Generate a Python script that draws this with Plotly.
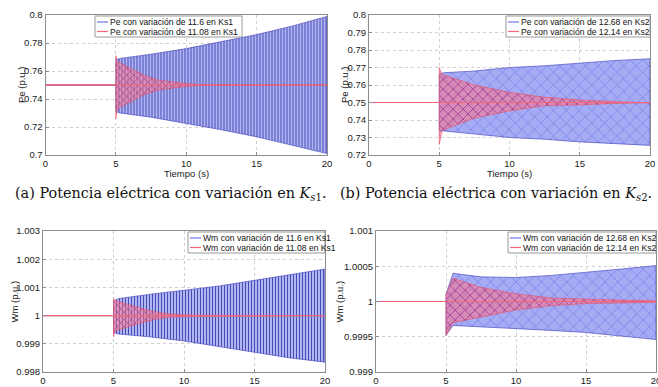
import plotly.graph_objects as go

# ---------------- data (oscillation envelopes) ----------------
# (a) Pe, Ks1
ta_blue = [0, 5, 5, 5.3, 7.5, 10, 12.5, 15, 17.5, 20]
ua_blue = [0.75, 0.75, 0.768, 0.769, 0.772, 0.776, 0.781, 0.786, 0.792, 0.799]
la_blue = [0.75, 0.75, 0.731, 0.730, 0.727, 0.7225, 0.718, 0.713, 0.707, 0.701]
ta_red = [0, 5, 5, 5.1, 6, 7, 8, 9, 10, 11, 12, 20]
ua_red = [0.75, 0.75, 0.771, 0.767, 0.762, 0.757, 0.7535, 0.752, 0.751, 0.7503, 0.7501, 0.75]
la_red = [0.75, 0.75, 0.726, 0.733, 0.738, 0.743, 0.7465, 0.748, 0.749, 0.7497, 0.7499, 0.75]

# (b) Pe, Ks2
tb_blue = [0, 5, 5, 5.3, 7.5, 10, 12.5, 15, 17.5, 20]
ub_blue = [0.75, 0.75, 0.766, 0.767, 0.768, 0.770, 0.771, 0.7725, 0.774, 0.775]
lb_blue = [0.75, 0.75, 0.734, 0.7335, 0.732, 0.730, 0.729, 0.7275, 0.7265, 0.7255]
tb_red = [0, 5, 5, 5.2, 7.5, 10, 12.5, 15, 17.5, 20]
ub_red = [0.75, 0.75, 0.770, 0.766, 0.760, 0.7558, 0.753, 0.7515, 0.7505, 0.7502]
lb_red = [0.75, 0.75, 0.726, 0.734, 0.741, 0.7452, 0.7482, 0.7486, 0.7495, 0.7498]

# (c) Wm, Ks1
tc_blue = [0, 5, 5, 5.3, 7.5, 10, 12.5, 15, 17.5, 20]
uc_blue = [1, 1, 1.0005, 1.0006, 1.00075, 1.0009, 1.00105, 1.00125, 1.00145, 1.00165]
lc_blue = [1, 1, 0.9994, 0.99935, 0.99925, 0.9991, 0.9989, 0.9987, 0.9985, 0.99835]
tc_red = [0, 5, 5, 5.1, 6, 7, 8, 9, 10, 11, 20]
uc_red = [1, 1, 1.0006, 1.00055, 1.0004, 1.00025, 1.00013, 1.00006, 1.00003, 1.00001, 1]
lc_red = [1, 1, 0.99925, 0.99945, 0.9996, 0.99975, 0.99987, 0.99994, 0.99997, 0.99999, 1]

# (d) Wm, Ks2
td_blue = [0, 5, 5, 5.5, 7.5, 10, 12.5, 15, 17.5, 20]
ud_blue = [1, 1, 1.0001, 1.0004, 1.00035, 1.00034, 1.00037, 1.00041, 1.00046, 1.00051]
ld_blue = [1, 1, 0.99952, 0.99966, 0.99964, 0.99962, 0.99959, 0.99956, 0.99951, 0.99946]
td_red = [0, 5, 5, 5.5, 7.5, 10, 12.5, 15, 17.5, 20]
ud_red = [1, 1, 1.0001, 1.00033, 1.0002, 1.00011, 1.00005, 1.00003, 1.00002, 1.00001]
ld_red = [1, 1, 0.99952, 0.9997, 0.99978, 0.99988, 0.99994, 0.99997, 0.99998, 0.99999]

names_a = ["Pe con variación de 11.6 en Ks1", "Pe con variación de 11.08 en Ks1"]
names_b = ["Pe con variación de 12.68 en Ks2", "Pe con variación de 12.14 en Ks2"]
names_c = ["Wm con variación de 11.6 en Ks1", "Wm con variación de 11.08 en Ks1"]
names_d = ["Wm con variación de 12.68 en Ks2", "Wm con variación de 12.14 en Ks2"]

x_ticks = [0, 5, 10, 15, 20]
ya_ticks = [0.7, 0.72, 0.74, 0.76, 0.78, 0.8]
ya_text = ["0.7", "0.72", "0.74", "0.76", "0.78", "0.8"]
yb_ticks = [0.72, 0.73, 0.74, 0.75, 0.76, 0.77, 0.78, 0.79, 0.8]
yb_text = ["0.72", "0.73", "0.74", "0.75", "0.76", "0.77", "0.78", "0.79", "0.8"]
yc_ticks = [0.998, 0.999, 1.0, 1.001, 1.002, 1.003]
yc_text = ["0.998", "0.999", "1", "1.001", "1.002", "1.003"]
yd_ticks = [0.999, 0.9995, 1.0, 1.0005, 1.001]
yd_text = ["0.999", "0.9995", "1", "1.0005", "1.001"]

captions = ["(a) Potencia eléctrica con variación en <i>K</i><sub><i>s</i>1</sub>.",
            "(b) Potencia eléctrica con variación en <i>K</i><sub><i>s</i>2</sub>."]

# ---------------- figure ----------------
W, H = 658, 387
fig = go.Figure()
FONT = "Liberation Sans, Arial, sans-serif"
BLUE_LINE = "#6f74e6"
RED_LINE = "#f2677a"

panels = [
    dict(ax="", t_b=ta_blue, u_b=ua_blue, l_b=la_blue, t_r=ta_red, u_r=ua_red, l_r=la_red,
         names=names_a, dense=True, rng=[0.7, 0.8], tv=ya_ticks, tt=ya_text,
         px=(45.5, 327), py=(15, 155), leg=(95, 16, 147), ytitle="Pe (p.u.)", ytx=21, base=0.75),
    dict(ax="2", t_b=tb_blue, u_b=ub_blue, l_b=lb_blue, t_r=tb_red, u_r=ub_red, l_r=lb_red,
         names=names_b, dense=False, rng=[0.72, 0.8], tv=yb_ticks, tt=yb_text,
         px=(369, 650), py=(15, 155), leg=(506, 16, 144), ytitle="Pe (p.u.)", ytx=344, base=0.75),
    dict(ax="3", t_b=tc_blue, u_b=uc_blue, l_b=lc_blue, t_r=tc_red, u_r=uc_red, l_r=lc_red,
         names=names_c, dense=True, rng=[0.998, 1.003], tv=yc_ticks, tt=yc_text,
         px=(43, 325), py=(231, 372), leg=(188, 232, 137), ytitle="Wm (p.u.)", ytx=14, base=1.0),
    dict(ax="4", t_b=td_blue, u_b=ud_blue, l_b=ld_blue, t_r=td_red, u_r=ud_red, l_r=ld_red,
         names=names_d, dense=False, rng=[0.999, 1.001], tv=yd_ticks, tt=yd_text,
         px=(376, 656), py=(231, 372), leg=(508, 232, 148), ytitle="Wm (p.u.)", ytx=339, base=1.0),
]


def fx(px):
    return px / W


def fy(py):
    return 1 - py / H


annotations = []
shapes = []
layout_extra = {}
for i, p in enumerate(panels):
    xa = "x" + p["ax"]
    ya = "y" + p["ax"]
    if p["dense"]:
        bpat = dict(shape="|", size=3, solidity=0.27, fgcolor="#3034a4", bgcolor="#b0b5f4")
        rpat = dict(shape="x", size=5, solidity=0.22, fgcolor="rgba(150,30,110,0.75)",
                    bgcolor="rgba(255,125,145,0.55)")
    else:
        bpat = dict(shape="x", size=9, solidity=0.12, fgcolor="#6a70e4", bgcolor="#a6acf4")
        rpat = dict(shape="x", size=7, solidity=0.2, fgcolor="rgba(140,30,130,0.8)",
                    bgcolor="rgba(255,115,135,0.55)")
    # blue band (polygon built from the envelope data)
    fig.add_trace(go.Scatter(
        x=p["t_b"] + p["t_b"][::-1], y=p["u_b"] + p["l_b"][::-1],
        xaxis=xa, yaxis=ya, fill="toself", mode="lines",
        line=dict(color="#3a3ab8", width=0.6), fillpattern=bpat,
        showlegend=False, hoverinfo="skip"))
    # red band
    fig.add_trace(go.Scatter(
        x=p["t_r"] + p["t_r"][::-1], y=p["u_r"] + p["l_r"][::-1],
        xaxis=xa, yaxis=ya, fill="toself", mode="lines",
        line=dict(color="rgba(240,70,90,0.9)", width=0.6), fillpattern=rpat,
        showlegend=False, hoverinfo="skip"))
    # steady-state red line
    fig.add_trace(go.Scatter(
        x=[p["t_r"][0], p["t_r"][1], p["t_r"][-1]], y=[p["base"]] * 3,
        xaxis=xa, yaxis=ya, mode="lines",
        line=dict(color=RED_LINE, width=1.2), showlegend=False, hoverinfo="skip"))

    x0, x1 = p["px"]
    y0, y1 = p["py"]
    axcommon = dict(showline=True, mirror=True, linecolor="#8c8c8c", linewidth=1,
                    ticks="inside", ticklen=3, tickcolor="#8c8c8c",
                    showgrid=True, gridcolor="#cfcfcf", griddash="dot", gridwidth=1,
                    tickfont=dict(family=FONT, size=9.5, color="#1a1a1a"),
                    ticklabeloverflow="allow",
                    zeroline=False, automargin=False)
    layout_extra["xaxis" + p["ax"]] = dict(
        domain=[fx(x0), fx(x1)], range=[0, 20], tickvals=x_ticks,
        anchor=ya, **axcommon)
    layout_extra["yaxis" + p["ax"]] = dict(
        domain=[fy(y1), fy(y0)], range=p["rng"], tickvals=p["tv"], ticktext=p["tt"],
        anchor=xa, **axcommon)

    # legend box (drawn in figure pixels)
    lx, ly, lw = p["leg"]
    shapes.append(dict(type="rect", xref="paper", yref="paper",
                       x0=fx(lx), x1=fx(lx + lw), y0=fy(ly + 21), y1=fy(ly),
                       line=dict(color="#9a9a9a", width=1), fillcolor="white", layer="above"))
    for k, (nm, col) in enumerate(zip(p["names"], [BLUE_LINE, RED_LINE])):
        ry = ly + 6 + 9.5 * k
        shapes.append(dict(type="line", xref="paper", yref="paper",
                           x0=fx(lx + 2), x1=fx(lx + 13), y0=fy(ry), y1=fy(ry),
                           line=dict(color=col, width=1.2), layer="above"))
        annotations.append(dict(text=nm, x=fx(lx + 13), y=fy(ry), xref="paper", yref="paper",
                                showarrow=False, xanchor="left", yanchor="middle",
                                font=dict(family=FONT, size=8.6, color="#111")))

    # axis titles
    annotations.append(dict(text="Tiempo (s)", x=fx((x0 + x1) / 2), y=fy(y1 + 18),
                            xref="paper", yref="paper", showarrow=False,
                            xanchor="center", yanchor="middle",
                            font=dict(family=FONT, size=9.5, color="#1a1a1a")))
    annotations.append(dict(text=p["ytitle"], x=fx(p["ytx"]), y=fy((y0 + y1) / 2),
                            xref="paper", yref="paper", showarrow=False, textangle=-90,
                            xanchor="center", yanchor="middle",
                            font=dict(family=FONT, size=9.5, color="#1a1a1a")))

for cx, cap in zip([13, 338], captions):
    annotations.append(dict(text=cap, x=fx(cx), y=fy(194), xref="paper", yref="paper",
                            showarrow=False, xanchor="left", yanchor="middle",
                            font=dict(family="DejaVu Serif, serif", size=14.4, color="#111")))

fig.update_layout(width=W, height=H, margin=dict(l=0, r=0, t=0, b=0, autoexpand=False),
                  paper_bgcolor="white", plot_bgcolor="white", template="none",
                  showlegend=False, annotations=annotations, shapes=shapes, **layout_extra)

fig.write_html("out.html", config={"displayModeBar": False},
               post_script="document.body.style.margin='0';document.body.style.overflow='hidden';")
